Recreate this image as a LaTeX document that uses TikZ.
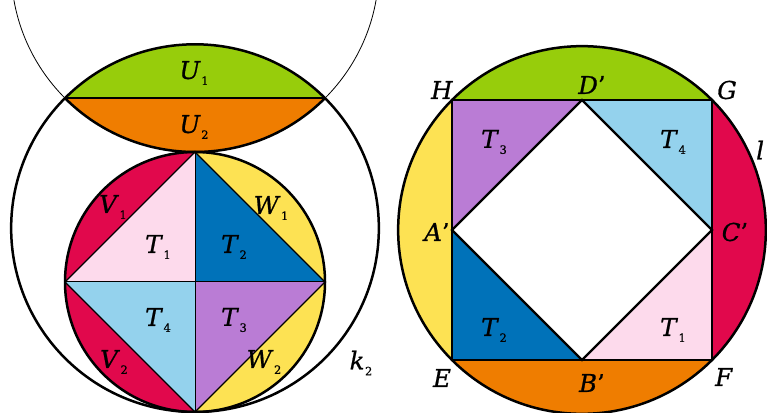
\documentclass[tikz,border=0pt]{standalone}
\usepackage{fontspec}
\setmainfont{DejaVu Serif}[ItalicFeatures={FakeBold=0.8},UprightFeatures={FakeBold=0.6}]
\definecolor{cgreen}{HTML}{97CD0B}
\definecolor{corange}{HTML}{EF7D00}
\definecolor{cred}{HTML}{E1084C}
\definecolor{cyellow}{HTML}{FDE253}
\definecolor{cpink}{HTML}{FDDAEC}
\definecolor{cblue}{HTML}{0072B9}
\definecolor{clblue}{HTML}{94D2ED}
\definecolor{cpurple}{HTML}{BA7CD5}
\newcommand\lab[2]{\textit{#1}\kern0.5pt\raisebox{-6pt}{\fontsize{11.5}{11.5}\selectfont #2}}
\begin{document}
\begin{tikzpicture}[x=1pt,y=1pt,
  lbl/.style={font=\fontsize{24.5}{28}\selectfont, inner sep=0pt},
  bigline/.style={line width=2.5pt},
  edgeline/.style={line width=2pt},
  thinedge/.style={line width=1.2pt},
  hairline/.style={line width=0.8pt}]
\useasboundingbox (0,0) rectangle (767,412);
\clip (0,0) rectangle (767,412);
% ---------- left figure ----------
\coordinate (S) at (195,130);
\coordinate (K) at (195,183.85);
\coordinate (Uc) at (195,443.85);
\coordinate (Lt) at (195,260);
\coordinate (Lb) at (195,0);
\coordinate (Ll) at (65,130);
\coordinate (Lr) at (325,130);
\coordinate (chL) at (65,313.85);
\coordinate (chR) at (325,313.85);
\begin{scope}\clip (0,0) rectangle (195,412); \fill[cred] (S) circle (130);\end{scope}
\begin{scope}\clip (195,0) rectangle (400,412); \fill[cyellow] (S) circle (130);\end{scope}
\fill[cpink] (Lt) -- (Ll) -- (S) -- cycle;
\fill[cblue] (Lt) -- (Lr) -- (S) -- cycle;
\fill[clblue] (Ll) -- (Lb) -- (S) -- cycle;
\fill[cpurple] (Lr) -- (Lb) -- (S) -- cycle;
\begin{scope}\clip (0,313.85) rectangle (400,412); \fill[cgreen] (K) circle (183.85);\end{scope}
\begin{scope}\clip (0,0) rectangle (400,313.85); \fill[corange] (Uc) circle (183.85);\end{scope}
\draw[hairline] (Uc) circle (183.85);
\draw[bigline] (K) circle (183.85);
\draw[bigline] (chL) arc (225:315:183.85);
\draw[line width=1.5pt] (chL) -- (chR);
\draw[thinedge] (Lt) -- (Ll) -- (Lb) -- (Lr) -- cycle;
\draw[line width=1pt] (Lt) -- (Lb) (Ll) -- (Lr);
\draw[bigline] (S) circle (130);
\node[lbl] (u1) at (194,339) {\lab{U}{1}};
\node[lbl] (u2) at (194,285) {\lab{U}{2}};
\node[lbl] (v1) at (113,205) {\lab{V}{1}};
\node[lbl] (w1) at (271,204) {\lab{W}{1}};
\node[lbl] (t1) at (158,165) {\lab{T}{1}};
\node[lbl] (t2) at (234,165) {\lab{T}{2}};
\node[lbl] (t4) at (158,92) {\lab{T}{4}};
\node[lbl] (t3) at (234,92) {\lab{T}{3}};
\node[lbl] (v2) at (114,50) {\lab{V}{2}};
\node[lbl] (w2) at (264,50) {\lab{W}{2}};
\node[lbl] (k2) at (361,49) {\lab{k}{2}};
% ---------- right figure ----------
\coordinate (R) at (582,182);
\coordinate (H) at (452,312);
\coordinate (G) at (712,312);
\coordinate (E) at (452,52);
\coordinate (F) at (712,52);
\coordinate (A) at (452,182);
\coordinate (B) at (582,52);
\coordinate (C) at (712,182);
\coordinate (D) at (582,312);
\begin{scope}\clip (400,312) rectangle (767,412); \fill[cgreen] (R) circle (183.85);\end{scope}
\begin{scope}\clip (400,0) rectangle (767,52); \fill[corange] (R) circle (183.85);\end{scope}
\begin{scope}\clip (390,0) rectangle (452,412); \fill[cyellow] (R) circle (183.85);\end{scope}
\begin{scope}\clip (712,0) rectangle (767,412); \fill[cred] (R) circle (183.85);\end{scope}
\fill[cpurple] (H) -- (D) -- (A) -- cycle;
\fill[clblue] (G) -- (D) -- (C) -- cycle;
\fill[cblue] (E) -- (A) -- (B) -- cycle;
\fill[cpink] (F) -- (B) -- (C) -- cycle;
\draw[edgeline] (H) -- (G) -- (F) -- (E) -- cycle;
\draw[line width=2.2pt] (A) -- (B) -- (C) -- (D) -- cycle;
\draw[bigline] (R) circle (183.85);
\node[lbl] (hl) at (442,322) {\textit{H}};
\node[lbl] (dl) at (592,327) {\textit{D}'};
\node[lbl] (gl) at (727,322) {\textit{G}};
\node[lbl] (rt3) at (494,270) {\lab{T}{3}};
\node[lbl] (rt4) at (673,270) {\lab{T}{4}};
\node[lbl] (al) at (437,180) {\textit{A}'};
\node[lbl] (cl) at (735,180) {\textit{C}'};
\node[lbl] (rt2) at (494,82) {\lab{T}{2}};
\node[lbl] (rt1) at (673,82) {\lab{T}{1}};
\node[lbl] (el) at (442,34) {\textit{E}};
\node[lbl] (bl) at (592,29) {\textit{B}'};
\node[lbl] (fl) at (724,35) {\textit{F}};
\node[lbl,anchor=west] (ll) at (756,262) {\textit{l}};
\end{tikzpicture}
\end{document}
